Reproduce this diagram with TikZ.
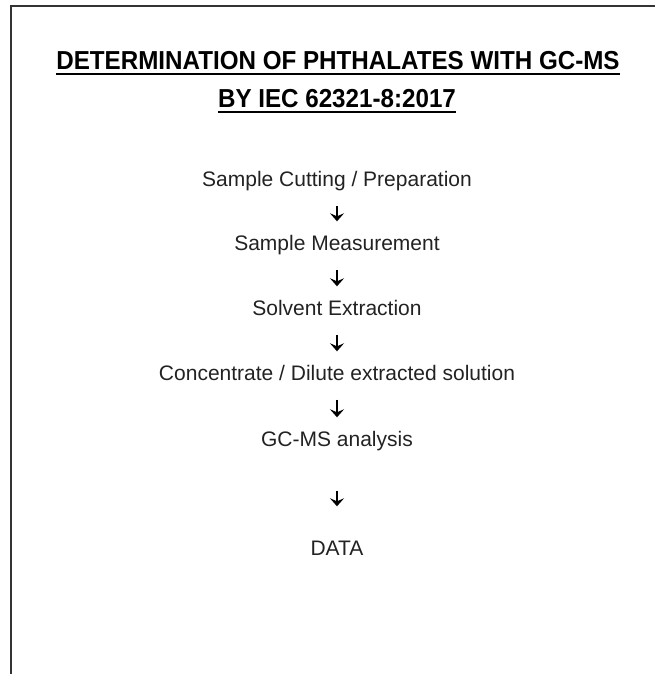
\documentclass[tikz,border=0pt]{standalone}
\usepackage{fontspec}
\setmainfont{Liberation Sans}
\usepackage{xcolor}
\definecolor{textgrau}{HTML}{222222}
\definecolor{rahmengrau}{HTML}{333333}
\usetikzlibrary{arrows.meta}

\begin{document}
\begin{tikzpicture}[x=1pt, y=-1pt,
    schritt/.style={inner sep=0pt, text height=15pt, text depth=4pt,
      font=\fontsize{21}{25}\selectfont, text=textgrau},
    titel/.style={inner sep=0pt, xscale=0.93, font=\bfseries\fontsize{26}{30}\selectfont},
    pfeil/.style={line width=2pt, -{Stealth[length=8pt, width=14pt, inset=3pt]},
      shorten <=15pt, shorten >=14pt},
    unterstrich/.style={line width=1.7pt}
]
  \useasboundingbox (0,0) rectangle (655,674);

  % Rahmen (nur oben und links sichtbar)
  \draw[line width=1.5pt, rahmengrau] (11,674) -- (11,6) -- (655,6);

  % Titel mit Unterstrich
  \node[titel] (titel1) at (338,61) {DETERMINATION OF PHTHALATES WITH GC-MS};
  \node[titel] (titel2) at (337,99) {BY IEC 62321-8:2017};
  \draw[unterstrich] ([yshift=-4pt]titel1.base west) -- ([yshift=-4pt]titel1.base east);
  \draw[unterstrich] ([yshift=-4pt]titel2.base west) -- ([yshift=-4pt]titel2.base east);

  % Arbeitsschritte
  \node[schritt] (schritt1) at (337,181) {Sample Cutting / Preparation};
  \node[schritt] (schritt2) at (337,245) {Sample Measurement};
  \node[schritt] (schritt3) at (337,310) {Solvent Extraction};
  \node[schritt] (schritt4) at (337,375) {Concentrate / Dilute extracted solution};
  \node[schritt] (schritt5) at (337,441) {GC-MS analysis};
  \node[schritt] (schritt6) at (337,550) {DATA};

  % Pfeile zwischen den Schritten
  \draw[pfeil] (schritt1) -- (schritt2);
  \draw[pfeil] (schritt2) -- (schritt3);
  \draw[pfeil] (schritt3) -- (schritt4);
  \draw[pfeil] (schritt4) -- (schritt5);
  \draw[pfeil, shorten <=40pt, shorten >=34pt] (schritt5) -- (schritt6);

\end{tikzpicture}
\end{document}
